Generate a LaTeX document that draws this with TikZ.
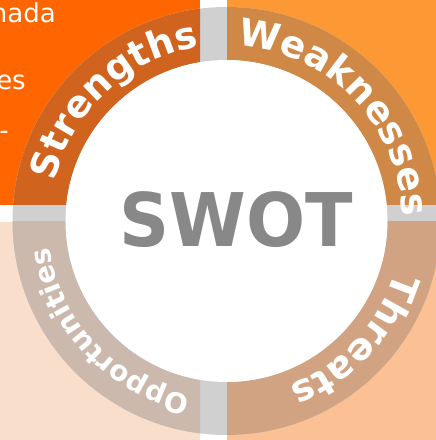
\documentclass[tikz,border=0pt]{standalone}
\usepackage{fontspec}
\setsansfont{DejaVu Sans}
\usetikzlibrary{decorations.text}
\definecolor{cTL}{HTML}{FF6600}
\definecolor{cTR}{HTML}{FD9935}
\definecolor{cBL}{HTML}{F9DECC}
\definecolor{cBR}{HTML}{FBC094}
\definecolor{cS}{HTML}{D0641E}
\definecolor{cW}{HTML}{D08846}
\definecolor{cO}{HTML}{CCB9AD}
\definecolor{cT}{HTML}{D1A383}
\definecolor{cGray}{HTML}{D0D0D0}
\definecolor{cSwot}{HTML}{888888}
\newcommand\swotbig{\fontsize{37.5}{40}\selectfont\bfseries\sffamily}
\newcommand\swotsmall{\fontsize{28}{30}\selectfont\bfseries\sffamily}
\tikzset{
  ringlab/.style={decorate, decoration={text along path, text align=center, text color=white, text={#1}}},
  cornertxt/.style={text=white, font=\sffamily\fontsize{26}{30}\selectfont, inner sep=0pt, anchor=base east}
}
\begin{document}
\begin{tikzpicture}[x=1pt,y=1pt]
\useasboundingbox (0,0) rectangle (436,440);
\clip (0,0) rectangle (436,440);
% quadrant backgrounds
\fill[cTL] (0,235) rectangle (200,440);
\fill[cTR] (227,235) rectangle (436,440);
\fill[cBL] (0,0) rectangle (200,218);
\fill[cBR] (227,0) rectangle (436,218);
% partial texts in the top-left box
\node[cornertxt] (t1) at (56,417) {nada};
\node[cornertxt] (t2) at (26,350) {es};
\node[cornertxt] (t3) at (9,300) {-};
% ring
\coordinate (C) at (226.5,219);
\fill[cGray] (C) circle[radius=214];
\begin{scope}
  \clip (-10,235) rectangle (200,450);
  \fill[cS,even odd rule] (C) circle[radius=214] (C) circle[radius=161];
\end{scope}
\begin{scope}
  \clip (227,235) rectangle (450,450);
  \fill[cW,even odd rule] (C) circle[radius=214] (C) circle[radius=161];
\end{scope}
\begin{scope}
  \clip (-10,-10) rectangle (200,218);
  \fill[cO,even odd rule] (C) circle[radius=214] (C) circle[radius=161];
\end{scope}
\begin{scope}
  \clip (227,-10) rectangle (450,218);
  \fill[cT,even odd rule] (C) circle[radius=214] (C) circle[radius=161];
\end{scope}
\fill[white] (C) circle[radius=161];
% ring labels
\path[ringlab={|\swotbig|Strengths}] ([shift={(C)}]193:176) arc[start angle=193, end angle=73, radius=176];
\path[ringlab={|\swotbig|Weaknesses}] ([shift={(C)}]104:176) arc[start angle=104, end angle=-16, radius=176];
\path[ringlab={|\swotbig|Threats}] ([shift={(C)}]17:176) arc[start angle=17, end angle=-103, radius=176];
\path[ringlab={|\swotsmall|Opportunities}] ([shift={(C)}]-76.6:179) arc[start angle=-76.6, end angle=-196.6, radius=179];
% centre
\node[text=cSwot, font=\sffamily\bfseries\fontsize{74}{80}\selectfont, inner sep=0pt] (swot) at (236,220.5) {\scalebox{0.94}[1]{SWOT}};
\end{tikzpicture}
\end{document}
